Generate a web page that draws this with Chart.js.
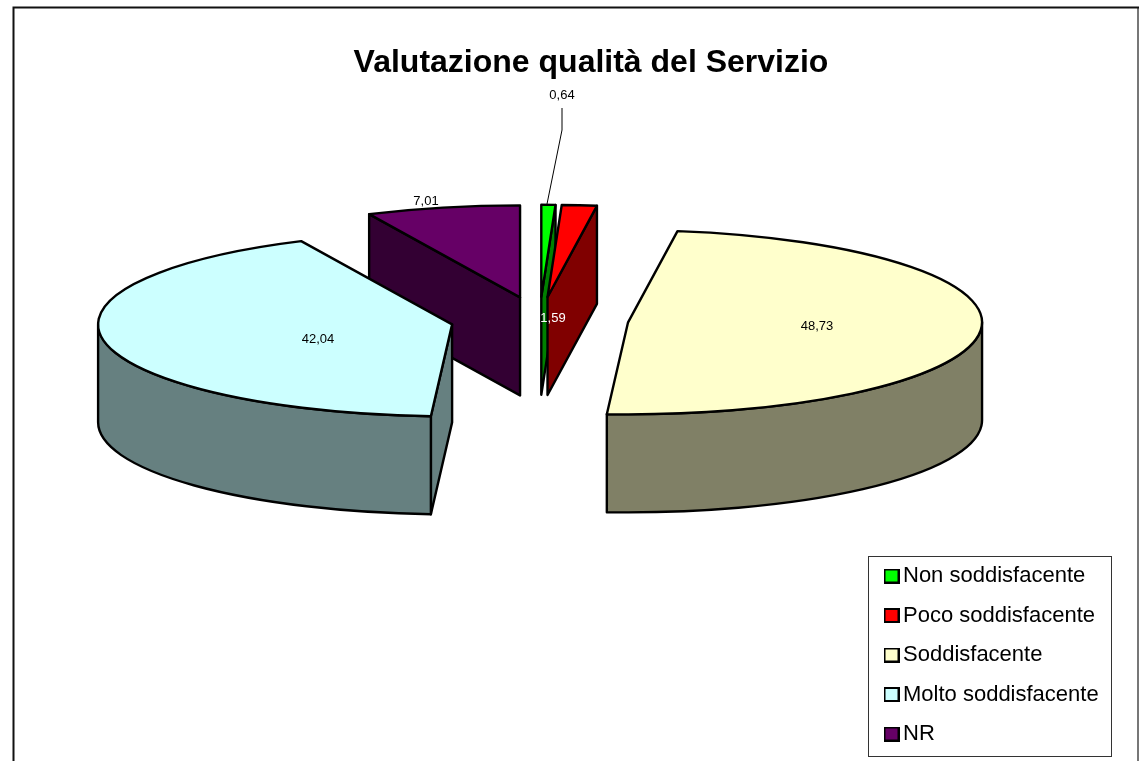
<!DOCTYPE html>
<html>
<head>
<meta charset="utf-8">
<style>html,body{margin:0;padding:0;background:#fff;overflow:hidden}canvas{display:block}</style>
<script src="https://cdn.jsdelivr.net/npm/chart.js@4"></script>
</head>
<body>
<canvas id="c" width="1139" height="761"></canvas>
<script>
const categories = ["Non soddisfacente", "Poco soddisfacente", "Soddisfacente", "Molto soddisfacente", "NR"];
const values = [0.64, 1.59, 48.73, 42.04, 7.01];
const valueLabels = ["0,64", "1,59", "48,73", "42,04", "7,01"];
const topColors = ["#00FF00", "#FF0000", "#FFFFCC", "#CCFFFF", "#660066"];
const wallColors = ["#008000", "#800000", "#808066", "#668080", "#330033"];
const labelColors = ["#000000", "#FFFFFF", "#000000", "#000000", "#000000"];
const titleText = "Valutazione qualità del Servizio";

const view = { cx: 539.5, cy: 320, squash: 0.26, depth: 98, radius: 354, explode: 89, line: 2.4 };
const labelSpots = [[562, 95], [553, 318], [817, 326], [318, 339], [426, 201]];
const leader = [[562, 108], [562, 130], [547, 204]];
const legendBox = { l: 868.5, t: 556.5, r: 1111.5, b: 756.5 };

function swatch(color) {
  const s = document.createElement('canvas');
  s.width = 16; s.height = 15;
  const g = s.getContext('2d');
  g.fillStyle = '#000'; g.fillRect(0, 0, 16, 15);
  g.fillStyle = color; g.fillRect(2, 2, 12, 11);
  return s;
}

function sliceGeom(arc) {
  const mid = (arc.startAngle + arc.endAngle) / 2;
  return {
    x: view.cx + Math.cos(mid) * view.explode,
    y: view.cy + Math.sin(mid) * view.explode * view.squash,
    rx: arc.outerRadius,
    ry: arc.outerRadius * view.squash,
    a0: arc.startAngle,
    a1: arc.endAngle
  };
}

function rim(g, a) {
  return [g.x + Math.cos(a) * g.rx, g.y + Math.sin(a) * g.ry];
}

function face(ctx, g, a, color) {
  const p = rim(g, a), d = view.depth;
  ctx.beginPath();
  ctx.moveTo(g.x, g.y);
  ctx.lineTo(p[0], p[1]);
  ctx.lineTo(p[0], p[1] + d);
  ctx.lineTo(g.x, g.y + d);
  ctx.closePath();
  ctx.fillStyle = color;
  ctx.fill();
  ctx.stroke();
}

const pie3d = {
  id: 'pie3d',
  beforeDraw(chart) {
    const ctx = chart.ctx;
    ctx.save();
    ctx.fillStyle = '#fff';
    ctx.fillRect(0, 0, chart.width, chart.height);
    ctx.strokeStyle = '#777';
    ctx.lineWidth = 2;
    ctx.beginPath();
    ctx.moveTo(1138, 7); ctx.lineTo(1138, 770);
    ctx.stroke();
    ctx.strokeStyle = '#111';
    ctx.beginPath();
    ctx.moveTo(13.5, 770); ctx.lineTo(13.5, 7.5); ctx.lineTo(1139, 7.5);
    ctx.stroke();
    ctx.strokeStyle = '#333';
    ctx.lineWidth = 1;
    ctx.strokeRect(legendBox.l, legendBox.t, legendBox.r - legendBox.l, legendBox.b - legendBox.t);
    ctx.restore();
  },
  afterLayout(chart) {
    const t = chart.titleBlock;
    t.left = 191; t.right = 991;
    t.width = 800;
    t.top = 63 - t.height / 2; t.bottom = t.top + t.height;
    const l = chart.legend;
    const w = l.width, h = l.height;
    l.left = 873.5; l.right = l.left + w;
    l.top = 547.5; l.bottom = l.top + h;
  },
  beforeDatasetsDraw(chart) {
    const ctx = chart.ctx;
    const arcs = chart.getDatasetMeta(0).data;
    const order = arcs.map((a, i) => i)
      .sort((i, j) => sliceGeom(arcs[i]).y - sliceGeom(arcs[j]).y || i - j);
    ctx.save();
    ctx.strokeStyle = '#000';
    ctx.lineWidth = view.line;
    ctx.lineJoin = 'round';
    order.forEach(i => {
      const g = sliceGeom(arcs[i]);
      if (Math.cos(g.a0) < -1e-6) face(ctx, g, g.a0, wallColors[i]);
      if (Math.cos(g.a1) > 1e-6) face(ctx, g, g.a1, wallColors[i]);
      const from = Math.max(g.a0, 0), to = Math.min(g.a1, Math.PI);
      if (to > from) {
        ctx.beginPath();
        ctx.ellipse(g.x, g.y, g.rx, g.ry, 0, from, to);
        ctx.ellipse(g.x, g.y + view.depth, g.rx, g.ry, 0, to, from, true);
        ctx.closePath();
        ctx.fillStyle = wallColors[i];
        ctx.fill();
        ctx.stroke();
      }
    });
    ctx.restore();
    // each top slice is pushed out along its own middle angle, in the flat plane of the pie
    arcs.forEach(arc => {
      if (arc.__exploded) return;
      const plain = arc.draw.bind(arc);
      arc.draw = c => {
        const mid = (arc.startAngle + arc.endAngle) / 2;
        c.save();
        c.translate(Math.cos(mid) * view.explode, Math.sin(mid) * view.explode);
        plain(c);
        c.restore();
      };
      arc.__exploded = true;
    });
    const first = arcs[0];
    ctx.save();
    ctx.translate(view.cx, view.cy);
    ctx.scale(1, view.squash);
    ctx.translate(-first.x, -first.y);
  },
  afterDatasetsDraw(chart) {
    const ctx = chart.ctx;
    ctx.restore();
    const arcs = chart.getDatasetMeta(0).data;
    ctx.save();
    ctx.strokeStyle = '#000';
    ctx.lineWidth = view.line;
    ctx.lineJoin = 'round';
    arcs.forEach(arc => {
      const g = sliceGeom(arc);
      ctx.beginPath();
      ctx.moveTo(g.x, g.y);
      ctx.ellipse(g.x, g.y, g.rx, g.ry, 0, g.a0, g.a1);
      ctx.closePath();
      ctx.stroke();
    });
    ctx.lineWidth = 1;
    ctx.beginPath();
    leader.forEach((p, i) => i ? ctx.lineTo(p[0], p[1]) : ctx.moveTo(p[0], p[1]));
    ctx.stroke();
    ctx.font = '13px "Liberation Sans", Arial, sans-serif';
    ctx.textAlign = 'center';
    ctx.textBaseline = 'middle';
    valueLabels.forEach((s, i) => {
      ctx.fillStyle = labelColors[i];
      ctx.fillText(s, labelSpots[i][0], labelSpots[i][1]);
    });
    ctx.restore();
  }
};

new Chart(document.getElementById('c'), {
  type: 'pie',
  data: {
    labels: categories,
    datasets: [{
      data: values,
      backgroundColor: topColors,
      borderWidth: 0,
      clip: false
    }]
  },
  options: {
    responsive: false,
    animation: false,
    radius: view.radius,
    plugins: {
      title: {
        display: true,
        text: titleText,
        color: '#000',
        padding: 0,
        font: { family: '"Liberation Sans", Arial, sans-serif', size: 32, weight: 'bold' }
      },
      legend: {
        position: 'right',
        align: 'start',
        labels: {
          color: '#000',
          padding: 17.5,
          boxWidth: 13,
          boxHeight: 13,
          usePointStyle: true,
          pointStyleWidth: 1,
          font: { family: '"Liberation Sans", Arial, sans-serif', size: 22 },
          generateLabels(chart) {
            return categories.map((c, i) => ({
              text: c,
              fillStyle: topColors[i],
              strokeStyle: '#000',
              fontColor: '#000',
              lineWidth: 2,
              pointStyle: swatch(topColors[i]),
              index: i
            }));
          }
        }
      },
      tooltip: { enabled: false }
    }
  },
  plugins: [pie3d]
});
</script>
</body>
</html>
